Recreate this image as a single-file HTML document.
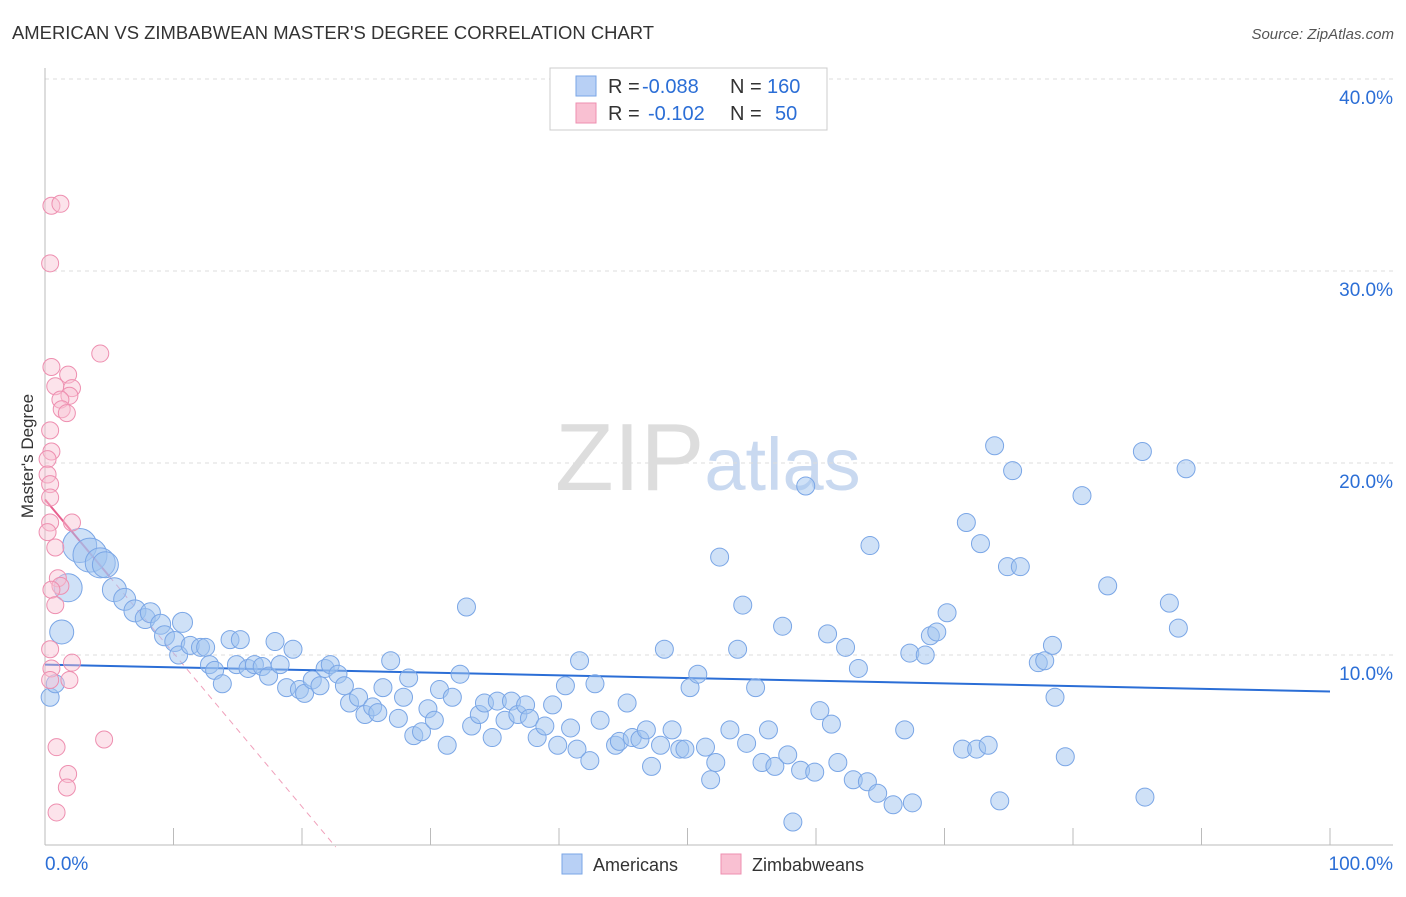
<!DOCTYPE html>
<html><head><meta charset="utf-8"><style>
body{margin:0;background:#fff;font-family:"Liberation Sans",sans-serif}
svg text{font-family:"Liberation Sans",sans-serif}
</style></head><body>
<svg id="chart" width="1406" height="892" xmlns="http://www.w3.org/2000/svg">
<text x="12" y="39" font-size="18" fill="#333" textLength="642" lengthAdjust="spacingAndGlyphs">AMERICAN VS ZIMBABWEAN MASTER'S DEGREE CORRELATION CHART</text>
<text x="1394" y="39" font-size="15" fill="#555" font-style="italic" text-anchor="end">Source: ZipAtlas.com</text>
<text x="555" y="490" font-size="96" font-family="Liberation Serif" fill="#ddd">ZIP<tspan fill="#c9d9f0" font-family="Liberation Sans" font-size="74">atlas</tspan></text>
<text transform="translate(33,456) rotate(-90)" font-size="17" fill="#333" text-anchor="middle">Master's Degree</text>
<g id="grid"></g><g id="axes"></g><g id="trend"></g><g id="pts"></g>
<g>
<rect x="550" y="68" width="277" height="62" fill="#fff" stroke="#ccc"/>
<rect x="576" y="76" width="20" height="20" fill="#b8d0f5" stroke="#7aa6e6"/>
<rect x="576" y="103" width="20" height="20" fill="#f9c0d2" stroke="#ee8fb0"/>
<text x="608" y="93" font-size="20" fill="#333">R =</text>
<text x="642" y="93" font-size="20" fill="#2b6ed6">-0.088</text>
<text x="730" y="93" font-size="20" fill="#333">N =</text>
<text x="767" y="93" font-size="20" fill="#2b6ed6">160</text>
<text x="608" y="120" font-size="20" fill="#333">R =</text>
<text x="648" y="120" font-size="20" fill="#2b6ed6">-0.102</text>
<text x="730" y="120" font-size="20" fill="#333">N =</text>
<text x="775" y="120" font-size="20" fill="#2b6ed6">50</text>
</g>
<g>
<rect x="562" y="854" width="20" height="20" fill="#b8d0f5" stroke="#7aa6e6"/>
<text x="593" y="871" font-size="18" fill="#333">Americans</text>
<rect x="721" y="854" width="20" height="20" fill="#f9c0d2" stroke="#ee8fb0"/>
<text x="752" y="871" font-size="18" fill="#333">Zimbabweans</text>
</g>
</svg>
<script>
const yTicks=[10,20,30,40];
const xTickLabels=["0.0%","100.0%"];
const blueX=[0.4,0.8,1.3,1.8,2.7,3.5,4.3,4.7,5.4,6.2,7.0,7.8,8.2,9.0,9.3,10.1,10.4,10.7,11.3,12.1,12.5,12.8,13.2,13.8,14.4,15.2,14.9,15.8,16.3,16.9,17.4,17.9,18.3,19.3,18.8,19.8,20.2,20.8,21.4,21.8,22.2,22.8,23.3,23.7,24.4,24.9,25.5,25.9,26.3,26.9,27.5,27.9,28.3,28.7,29.3,29.8,30.3,30.7,31.3,31.7,32.3,32.8,33.2,33.8,34.2,34.8,35.2,35.8,36.3,36.8,37.4,37.7,38.3,38.9,39.5,39.9,40.5,40.9,41.4,41.6,42.4,42.8,43.2,44.4,44.7,45.3,45.7,46.3,46.8,47.2,47.9,48.2,48.8,49.4,49.8,50.2,50.8,51.4,51.8,52.2,52.5,53.3,53.9,54.3,54.6,55.3,55.8,56.3,56.8,57.4,57.8,58.8,58.2,59.2,59.9,60.3,60.9,61.2,61.7,62.3,62.9,63.3,64.0,64.2,64.8,66.0,66.9,67.3,67.5,68.5,68.9,69.4,70.2,71.4,71.7,72.5,72.8,73.4,73.9,74.3,74.9,75.3,75.9,77.3,77.8,78.4,78.6,79.4,80.7,82.7,85.4,85.6,87.5,88.2,88.8];
const blueY=[7.8,8.5,11.2,13.5,15.7,15.2,14.8,14.7,13.4,12.9,12.3,11.9,12.2,11.6,11.0,10.7,10.0,11.7,10.5,10.4,10.4,9.5,9.2,8.5,10.8,10.8,9.5,9.3,9.5,9.4,8.9,10.7,9.5,10.3,8.3,8.2,8.0,8.7,8.4,9.3,9.5,9.0,8.4,7.5,7.8,6.9,7.3,7.0,8.3,9.7,6.7,7.8,8.8,5.8,6.0,7.2,6.6,8.2,5.3,7.8,9.0,12.5,6.3,6.9,7.5,5.7,7.6,6.6,7.6,6.9,7.4,6.7,5.7,6.3,7.4,5.3,8.4,6.2,5.1,9.7,4.5,8.5,6.6,5.3,5.5,7.5,5.7,5.6,6.1,4.2,5.3,10.3,6.1,5.1,5.1,8.3,9.0,5.2,3.5,4.4,15.1,6.1,10.3,12.6,5.4,8.3,4.4,6.1,4.2,11.5,4.8,4.0,1.3,18.8,3.9,7.1,11.1,6.4,4.4,10.4,3.5,9.3,3.4,15.7,2.8,2.2,6.1,10.1,2.3,10.0,11.0,11.2,12.2,5.1,16.9,5.1,15.8,5.3,20.9,2.4,14.6,19.6,14.6,9.6,9.7,10.5,7.8,4.7,18.3,13.6,20.6,2.6,12.7,11.4,19.7];
const blueR=[9,9,12,14,17,17,15,13,12,11,11,10,10,10,10,10,9,10,9,9,9,9,9,9,9,9,9,9,9,9,9,9,9,9,9,9,9,9,9,9,9,9,9,9,9,9,9,9,9,9,9,9,9,9,9,9,9,9,9,9,9,9,9,9,9,9,9,9,9,9,9,9,9,9,9,9,9,9,9,9,9,9,9,9,9,9,9,9,9,9,9,9,9,9,9,9,9,9,9,9,9,9,9,9,9,9,9,9,9,9,9,9,9,9,9,9,9,9,9,9,9,9,9,9,9,9,9,9,9,9,9,9,9,9,9,9,9,9,9,9,9,9,9,9,9,9,9,9,9,9,9,9,9,9,9,9,9];
const pinkX=[0.5,1.2,0.4,4.3,0.5,1.8,0.8,2.1,1.9,1.2,1.3,1.7,0.4,0.5,0.2,0.2,0.4,0.4,0.4,2.1,0.2,0.8,1.0,1.2,0.5,0.8,0.4,2.1,0.5,1.9,0.4,4.6,0.9,1.8,1.7,0.9];
const pinkY=[33.4,33.5,30.4,25.7,25.0,24.6,24.0,23.9,23.5,23.3,22.8,22.6,21.7,20.6,20.2,19.4,18.9,18.2,16.9,16.9,16.4,15.6,14.0,13.6,13.4,12.6,10.3,9.6,9.3,8.7,8.7,5.6,5.2,3.8,3.1,1.8];
const blueTrend=[9.5,8.1];
const pinkTrend=[18.1,-0.8];
const X0=45,X1=1330,YB=847,PY=19.2;
const sx=v=>X0+(X1-X0)*v/100, sy=v=>YB-v*PY;
const NS="http://www.w3.org/2000/svg";
function mk(tag,attrs,parent){const e=document.createElementNS(NS,tag);for(const k in attrs)e.setAttribute(k,attrs[k]);document.getElementById(parent).appendChild(e);return e;}
yTicks.forEach(t=>{
 const l=mk('line',{x1:45,x2:1393,y1:sy(t),y2:sy(t),stroke:'#ddd','stroke-dasharray':'4,4'},'grid');
 
 
 const tx=mk('text',{x:1393,y:sy(t)+25,'font-size':19,fill:'#2b6ed6','text-anchor':'end'},'grid');
 tx.textContent=t.toFixed(1)+'%';
 
 
});
let ax=mk('line',{x1:45,x2:45,y1:68,y2:845,stroke:'#bbb'},'axes');


ax=mk('line',{x1:45,x2:1393,y1:845,y2:845,stroke:'#bbb'},'axes');


for(let i=0;i<=10;i++){const t=mk('line',{x1:sx(i*10),x2:sx(i*10),y1:828,y2:845,stroke:'#bbb'},'axes');
 
 }
[[0,'start',45],[100,'end',1393]].forEach((d,i)=>{const t=mk('text',{x:d[2],y:870,'font-size':19,fill:'#2b6ed6','text-anchor':d[1]},'axes');t.textContent=xTickLabels[i];
 
 });
blueX.forEach((x,i)=>{const c=mk('circle',{cx:sx(x),cy:sy(blueY[i]),r:blueR[i],fill:'rgba(160,195,240,0.5)',stroke:'#7aa6e6','stroke-width':1},'pts');
 
 });
pinkX.forEach((x,i)=>{const c=mk('circle',{cx:sx(x),cy:sy(pinkY[i]),r:8.5,fill:'rgba(249,192,210,0.45)',stroke:'#ee8fb0','stroke-width':1},'pts');
 
 });
let tl=mk('line',{x1:sx(0),y1:sy(blueTrend[0]),x2:sx(100),y2:sy(blueTrend[1]),stroke:'#2b6ed6','stroke-width':2},'trend');


const pz=-pinkTrend[0]/pinkTrend[1];
tl=mk('line',{x1:sx(0),y1:sy(pinkTrend[0]),x2:sx(5),y2:sy(pinkTrend[0]+5*pinkTrend[1]),stroke:'#e8608f','stroke-width':2},'trend');


tl=mk('line',{x1:sx(5),y1:sy(pinkTrend[0]+5*pinkTrend[1]),x2:sx(pz),y2:sy(0),stroke:'#f0a0bb','stroke-width':1,'stroke-dasharray':'6,5'},'trend');


</script>
</body></html>
